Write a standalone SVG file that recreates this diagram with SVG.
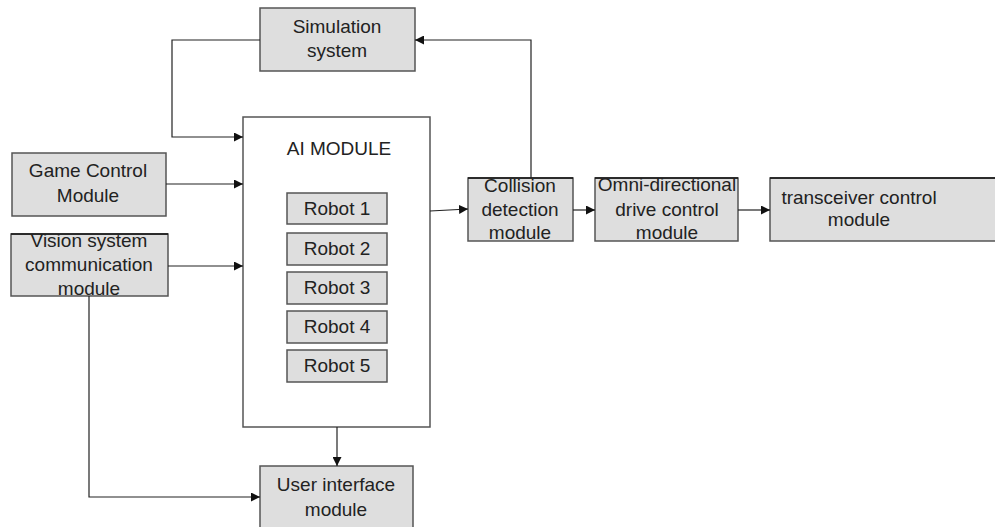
<svg xmlns="http://www.w3.org/2000/svg" width="995" height="527" viewBox="0 0 995 527">
<defs>
<marker id="ah" viewBox="0 0 10 10" refX="10" refY="5" markerWidth="9" markerHeight="9" markerUnits="userSpaceOnUse" orient="auto">
<path d="M0,0 L10,5 L0,10 z" fill="#111"/>
</marker>
<style>
.box{fill:#dedede;stroke:#555;stroke-width:1.5}
.wbox{fill:#fff;stroke:#555;stroke-width:1.5}
.t{font-family:"Liberation Sans",Arial,sans-serif;font-size:19px;fill:#222;text-anchor:middle}
.c{fill:none;stroke:#222;stroke-width:1.2}
</style>
</defs>
<rect width="995" height="527" fill="#fff"/>
<g id="ai_module">
<rect class="wbox" x="243" y="117" width="187" height="310"/>
<text class="t" x="339" y="155">AI MODULE</text>
</g>
<g id="robot1"><rect class="box" x="287" y="193" width="100" height="31"/><text class="t" x="337" y="215">Robot 1</text></g>
<g id="robot2"><rect class="box" x="287" y="233" width="100" height="32"/><text class="t" x="337" y="255">Robot 2</text></g>
<g id="robot3"><rect class="box" x="287" y="272" width="100" height="32"/><text class="t" x="337" y="294">Robot 3</text></g>
<g id="robot4"><rect class="box" x="287" y="311" width="100" height="32"/><text class="t" x="337" y="333">Robot 4</text></g>
<g id="robot5"><rect class="box" x="287" y="350" width="100" height="32"/><text class="t" x="337" y="372">Robot 5</text></g>
<g id="simulation">
<rect class="box" x="260" y="8" width="155" height="63"/>
<text class="t" x="337" y="33">Simulation</text>
<text class="t" x="337" y="57">system</text>
</g>
<g id="game_control">
<rect class="box" x="12" y="153" width="154" height="63"/>
<text class="t" x="88" y="177">Game Control</text>
<text class="t" x="88" y="202">Module</text>
</g>
<g id="vision">
<rect class="box" x="11" y="234" width="157" height="62"/>
<line x1="11" y1="234" x2="168" y2="234" stroke="#111" stroke-width="1.5"/>
<text class="t" x="89" y="247">Vision system</text>
<text class="t" x="89" y="271">communication</text>
<text class="t" x="89" y="295">module</text>
</g>
<g id="collision">
<rect class="box" x="468" y="178" width="105" height="63"/>
<line x1="468" y1="178" x2="573" y2="178" stroke="#111" stroke-width="1.5"/>
<text class="t" x="520" y="192">Collision</text>
<text class="t" x="520" y="216">detection</text>
<text class="t" x="520" y="239">module</text>
</g>
<g id="omni">
<rect class="box" x="595" y="178" width="143" height="63"/>
<line x1="595" y1="178" x2="738" y2="178" stroke="#111" stroke-width="1.5"/>
<text class="t" x="667" y="191">Omni-directional</text>
<text class="t" x="667" y="216">drive control</text>
<text class="t" x="667" y="239">module</text>
</g>
<g id="transceiver">
<rect class="box" x="770" y="178" width="240" height="63"/>
<line x1="770" y1="178" x2="995" y2="178" stroke="#111" stroke-width="1.5"/>
<text class="t" x="859" y="204">transceiver control</text>
<text class="t" x="859" y="226">module</text>
</g>
<g id="user_interface">
<rect class="box" x="260" y="466" width="153" height="70"/>
<text class="t" x="336" y="491">User interface</text>
<text class="t" x="336" y="516">module</text>
</g>
<g id="connectors">
<polyline class="c" points="260,40 172,40 172,137 243,137" marker-end="url(#ah)"/>
<polyline class="c" points="531,178 531,40 415,40" marker-end="url(#ah)"/>
<line class="c" x1="166" y1="184" x2="243" y2="184" marker-end="url(#ah)"/>
<line class="c" x1="168" y1="266" x2="243" y2="266" marker-end="url(#ah)"/>
<line class="c" x1="430" y1="211" x2="468" y2="209" marker-end="url(#ah)"/>
<line class="c" x1="573" y1="210" x2="595" y2="210" marker-end="url(#ah)"/>
<line class="c" x1="738" y1="210" x2="770" y2="210" marker-end="url(#ah)"/>
<line class="c" x1="337" y1="427" x2="337" y2="466" marker-end="url(#ah)"/>
<polyline class="c" points="89,296 89,497 260,497" marker-end="url(#ah)"/>
</g>
</svg>
